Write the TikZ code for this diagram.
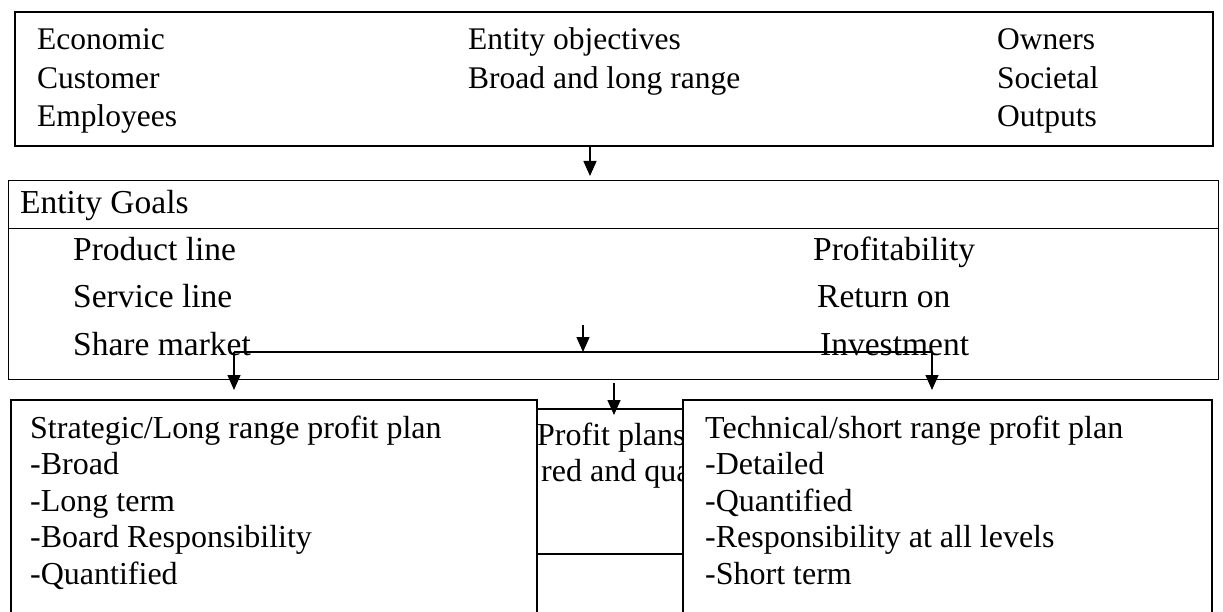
\documentclass[tikz,border=0pt]{standalone}
\usepackage{fontspec}
\setmainfont{Liberation Serif}
\usetikzlibrary{arrows.meta}

\begin{document}
\begin{tikzpicture}[x=1pt,y=-1pt,
  box/.style={draw, line width=1.8pt, inner sep=0pt, anchor=north west},
  thinbox/.style={draw, line width=1pt, inner sep=0pt, anchor=north west},
  flow/.style={line width=1.4pt, -{Triangle[length=15pt,width=13pt]}},
  toptext/.style={anchor=base west, inner sep=0pt, font=\fontsize{31.5}{36}\selectfont},
  goaltext/.style={anchor=base west, inner sep=0pt, font=\fontsize{33.5}{40}\selectfont},
  plantext/.style={anchor=base west, inner sep=0pt, font=\fontsize{32}{37}\selectfont}]
\clip (0,0) rectangle (1223,612);
\fill[white] (0,0) rectangle (1223,612);

% boxes
\node[box, minimum width=1198pt, minimum height=134pt] (objbox) at (14,11) {};
\node[thinbox, minimum width=1210pt, minimum height=199pt] (goalsbox) at (8,180) {};
\node[box, minimum width=526pt, minimum height=240pt] (longbox) at (10,399) {};
\node[box, minimum width=529pt, minimum height=240pt] (shortbox) at (682,399) {};
\node[box, minimum width=146pt, minimum height=145pt] (plansbox) at (536,408) {};
\draw[line width=1pt] (goalsbox.west |- 0,229) -- (goalsbox.east |- 0,229);

% objectives
\foreach \t [count=\i] in {Economic, Customer, Employees}
  \node[toptext] (stake\i) at (37,11.5+38.5*\i) {\t};
\foreach \t [count=\i] in {Entity objectives, Broad and long range}
  \node[toptext] (aim\i) at (468,11.5+38.5*\i) {\t};
\foreach \t [count=\i] in {Owners, Societal, Outputs}
  \node[toptext] (owner\i) at (997,11.5+38.5*\i) {\t};

% goals
\node[goaltext] (goalshead) at (20,214) {Entity Goals};
\foreach \t [count=\i] in {Product line, Service line, Share market}
  \node[goaltext] (market\i) at (73,214+47*\i) {\t};
\node[goaltext] (profit1) at (813,261) {Profitability};
\node[goaltext] (profit2) at (817,308) {Return on};
\node[goaltext] (profit3) at (820,355) {Investment};

% plans
\foreach \t [count=\i] in {Strategic/Long range profit plan, -Broad, -Long term,
    -Board Responsibility, -Quantified}
  \node[plantext] (long\i) at (30,401.5+36.5*\i) {\t};
\foreach \t [count=\i] in {Technical/short range profit plan, -Detailed, -Quantified,
    -Responsibility at all levels, -Short term}
  \node[plantext] (short\i) at (705,401.5+36.5*\i) {\t};
\begin{scope}
  \clip (plansbox.north west) rectangle (plansbox.south east);
  \node[plantext] (plans1) at (537,445) {Profit plans};
  \node[plantext] (plans2) at (541,481) {red and qua};
\end{scope}

% connectors
\coordinate (topdrop) at (590,145);
\coordinate (goalsdrop) at (583,325);
\coordinate (fork) at (583,352);
\coordinate (forkL) at (234,352);
\coordinate (forkR) at (932,352);
\coordinate (plansdrop) at (614,383);
\draw[flow, shorten >=4pt] (topdrop) -- (goalsbox.north -| topdrop);
\draw[flow] (goalsdrop) -- (fork);
\draw[line width=1.4pt] (forkL) -- (forkR);
\draw[flow, shorten >=9pt] (forkL) -- (longbox.north -| forkL);
\draw[flow, shorten >=9pt] (forkR) -- (shortbox.north -| forkR);
\draw[flow, shorten >=-7pt] (plansdrop) -- (plansbox.north -| plansdrop);
\end{tikzpicture}
\end{document}
